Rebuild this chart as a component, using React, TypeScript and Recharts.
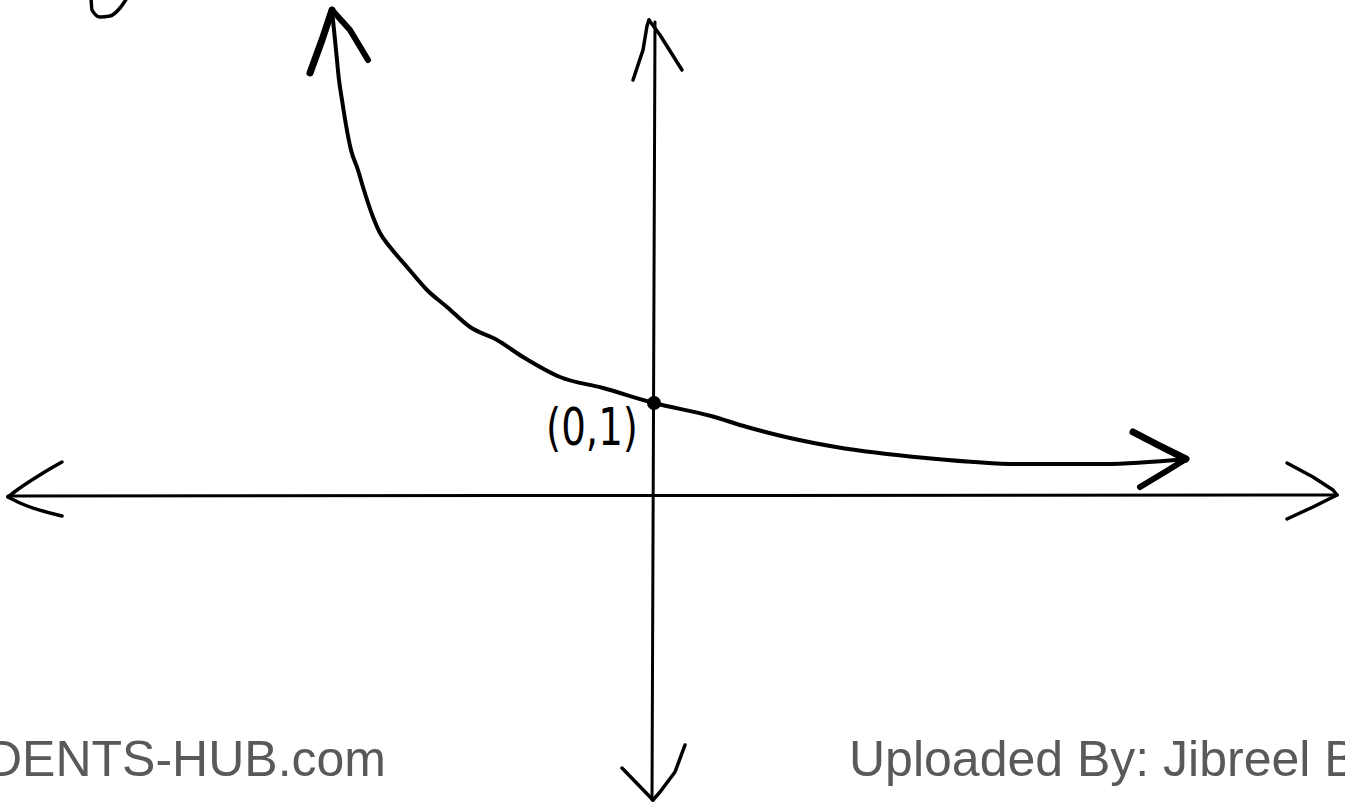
import React from "react";
import { ComposedChart, Line, XAxis, YAxis, ReferenceDot } from "recharts";

// Coordinate units: 1 unit = 100 px, origin at the axes crossing.
type P = { x: number; y: number };

const curve: P[] = [
  { x: -3.22, y: 4.86 }, { x: -3.21, y: 4.76 }, { x: -3.18, y: 4.46 }, { x: -3.15, y: 4.16 },
  { x: -3.12, y: 3.96 }, { x: -3.08, y: 3.71 }, { x: -3.03, y: 3.46 }, { x: -2.96, y: 3.26 },
  { x: -2.91, y: 3.09 }, { x: -2.81, y: 2.79 }, { x: -2.74, y: 2.63 }, { x: -2.64, y: 2.49 },
  { x: -2.47, y: 2.29 }, { x: -2.27, y: 2.06 }, { x: -2.07, y: 1.89 }, { x: -1.84, y: 1.69 },
  { x: -1.57, y: 1.56 }, { x: -1.31, y: 1.39 }, { x: -0.94, y: 1.19 }, { x: -0.51, y: 1.08 },
  { x: 0, y: 0.93 }, { x: 0.57, y: 0.8 }, { x: 0.93, y: 0.69 }, { x: 1.36, y: 0.58 },
  { x: 1.82, y: 0.49 }, { x: 2.72, y: 0.38 }, { x: 3.65, y: 0.32 }, { x: 4.5, y: 0.32 },
  { x: 5.32, y: 0.37 },
];

const curveHeadTopLeft: P[] = [{ x: -3.44, y: 4.23 }, { x: -3.32, y: 4.56 }, { x: -3.22, y: 4.86 }];
const curveHeadTopRight: P[] = [{ x: -3.22, y: 4.86 }, { x: -3.04, y: 4.66 }, { x: -2.86, y: 4.36 }];
const curveHeadRightUpper: P[] = [{ x: 4.79, y: 0.64 }, { x: 5.06, y: 0.5 }, { x: 5.32, y: 0.37 }];
const curveHeadRightLower: P[] = [{ x: 4.86, y: 0.09 }, { x: 5.11, y: 0.24 }, { x: 5.32, y: 0.37 }];

const xAxisLine: P[] = [{ x: -6.46, y: 0 }, { x: 6.83, y: 0.01 }];
const xHeadLeftUpper: P[] = [{ x: -6.46, y: -0.01 }, { x: -6.41, y: 0.03 }, { x: -6.11, y: 0.23 }, { x: -5.92, y: 0.34 }];
const xHeadLeftLower: P[] = [{ x: -6.46, y: -0.01 }, { x: -6.34, y: -0.07 }, { x: -5.92, y: -0.2 }];
const xHeadRightUpper: P[] = [{ x: 6.33, y: 0.33 }, { x: 6.59, y: 0.19 }, { x: 6.79, y: 0.06 }, { x: 6.83, y: 0.01 }];
const xHeadRightLower: P[] = [{ x: 6.33, y: -0.23 }, { x: 6.59, y: -0.11 }, { x: 6.83, y: 0.01 }];

const yAxisLine: P[] = [{ x: -0.02, y: -3.04 }, { x: 0.01, y: 4.74 }];
const yHeadTopLeft: P[] = [{ x: -0.21, y: 4.16 }, { x: -0.11, y: 4.46 }, { x: -0.07, y: 4.7 }, { x: -0.05, y: 4.76 }];
const yHeadTopRight: P[] = [{ x: -0.05, y: 4.76 }, { x: 0.06, y: 4.61 }, { x: 0.28, y: 4.26 }];
const yHeadBottomLeft: P[] = [{ x: -0.32, y: -2.72 }, { x: -0.01, y: -3.04 }];
const yHeadBottomRight: P[] = [{ x: -0.01, y: -3.04 }, { x: 0.06, y: -2.96 }, { x: 0.21, y: -2.76 }, { x: 0.31, y: -2.49 }];

const glyph: P[] = [
  { x: -5.63, y: 4.98 }, { x: -5.62, y: 4.86 }, { x: -5.54, y: 4.79 }, { x: -5.44, y: 4.8 },
  { x: -5.34, y: 4.88 }, { x: -5.27, y: 4.98 },
];

const pointLabel = "(0,1)";
const footerLeft = "STUDENTS-HUB.com";
const footerRight = "Uploaded By: Jibreel B";

const W = 1345;
const H = 802;

const strokes: { data: P[]; w: number; type: "linear" | "monotone" }[] = [
  { data: xAxisLine, w: 3, type: "linear" },
  { data: xHeadLeftUpper, w: 3.5, type: "monotone" },
  { data: xHeadLeftLower, w: 3.5, type: "monotone" },
  { data: xHeadRightUpper, w: 3.5, type: "linear" },
  { data: xHeadRightLower, w: 3.5, type: "linear" },
  { data: yAxisLine, w: 3, type: "linear" },
  { data: yHeadTopLeft, w: 3.5, type: "linear" },
  { data: yHeadTopRight, w: 3.5, type: "linear" },
  { data: yHeadBottomLeft, w: 3.5, type: "linear" },
  { data: yHeadBottomRight, w: 3.5, type: "linear" },
  { data: curve, w: 4, type: "monotone" },
  { data: curveHeadTopLeft, w: 7, type: "linear" },
  { data: curveHeadTopRight, w: 6, type: "linear" },
  { data: curveHeadRightUpper, w: 7, type: "linear" },
  { data: curveHeadRightLower, w: 6, type: "linear" },
  { data: glyph, w: 3.5, type: "monotone" },
];

const PointLabel = (props: any) => {
  const vb = props.viewBox || {};
  const cx = (vb.x ?? 0) + (vb.width ?? 0) / 2;
  const cy = (vb.y ?? 0) + (vb.height ?? 0) / 2;
  return (
    <text
      x={cx - 16}
      y={cy + 42}
      textAnchor="end"
      fontSize={52}
      fill="#000"
      fontFamily="DejaVu Sans, sans-serif"
      textLength={92}
      lengthAdjust="spacingAndGlyphs"
    >
      {pointLabel}
    </text>
  );
};

export default function App() {
  return (
    <div
      style={{
        position: "fixed",
        top: 0,
        left: 0,
        width: W,
        height: H,
        background: "#ffffff",
        overflow: "hidden",
      }}
    >
      <ComposedChart width={W} height={H} margin={{ top: 0, right: 0, bottom: 0, left: 0 }}>
        <XAxis type="number" dataKey="x" domain={[-6.54, 6.91]} allowDataOverflow hide />
        <YAxis type="number" dataKey="y" domain={[-3.06, 4.96]} allowDataOverflow hide />
        {strokes.map((s, i) => (
          <Line
            key={i}
            data={s.data}
            dataKey="y"
            type={s.type}
            stroke="#000"
            strokeWidth={s.w}
            strokeLinecap="round"
            strokeLinejoin="round"
            dot={false}
            activeDot={false}
            isAnimationActive={false}
          />
        ))}
        <ReferenceDot
          x={0}
          y={0.93}
          r={7}
          fill="#000"
          stroke="none"
          label={<PointLabel />}
        />
      </ComposedChart>
      <svg
        width={W}
        height={H}
        style={{ position: "absolute", top: 0, left: 0, pointerEvents: "none" }}
      >
        <text x={386} y={776} textAnchor="end" fontSize={50} fill="#595959" fontFamily="Liberation Sans, Arial, sans-serif">
          {footerLeft}
        </text>
        <text x={849} y={776} textAnchor="start" fontSize={50} fill="#595959" fontFamily="Liberation Sans, Arial, sans-serif">
          {footerRight}
        </text>
      </svg>
    </div>
  );
}
